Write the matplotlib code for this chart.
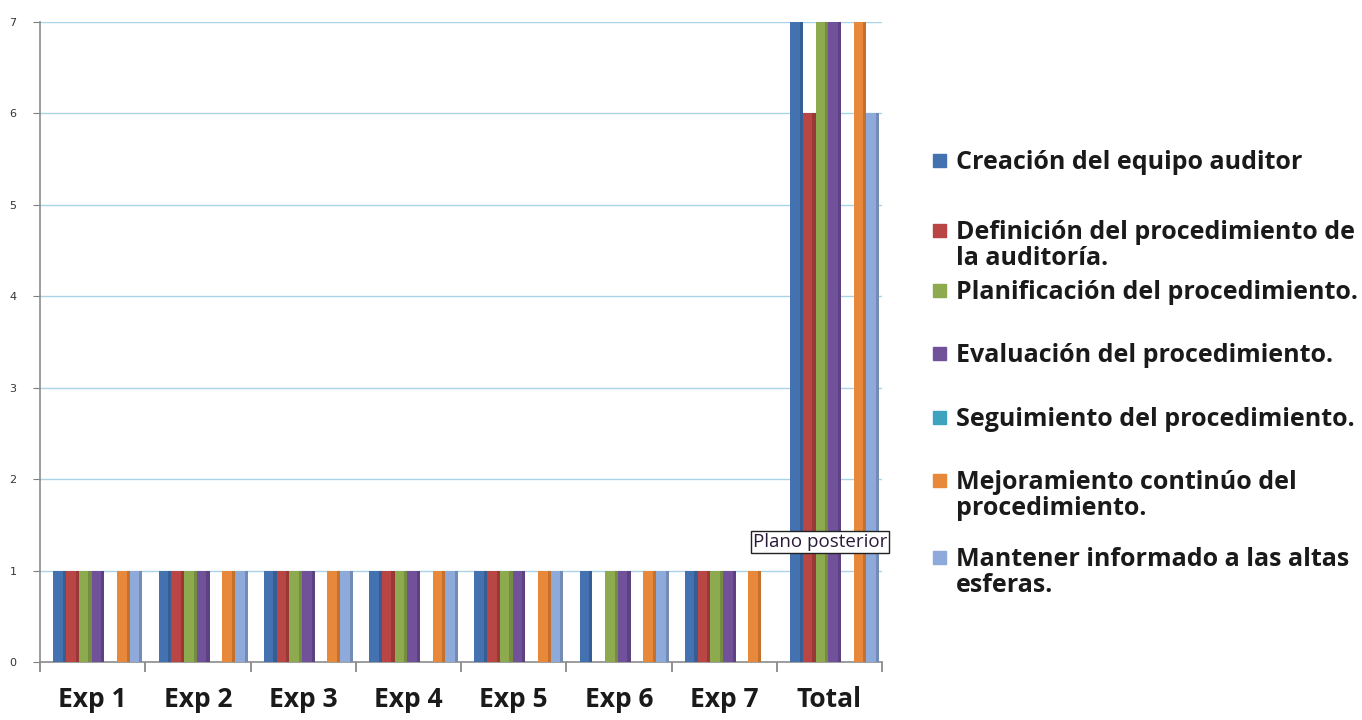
import matplotlib.pyplot as plt
import numpy as np
from matplotlib.patches import Rectangle

categories = ["Exp 1", "Exp 2", "Exp 3", "Exp 4", "Exp 5", "Exp 6", "Exp 7", "Total"]
series_names = [
    "Creación del equipo auditor",
    "Definición del procedimiento de\nla auditoría.",
    "Planificación del procedimiento.",
    "Evaluación del procedimiento.",
    "Seguimiento del procedimiento.",
    "Mejoramiento continúo del\nprocedimiento.",
    "Mantener informado a las altas\nesferas.",
]
creacion = [1, 1, 1, 1, 1, 1, 1, 7]
definicion = [1, 1, 1, 1, 1, 0, 1, 6]
planificacion = [1, 1, 1, 1, 1, 1, 1, 7]
evaluacion = [1, 1, 1, 1, 1, 1, 1, 7]
seguimiento = [0, 0, 0, 0, 0, 0, 0, 0]
mejoramiento = [1, 1, 1, 1, 1, 1, 1, 7]
mantener = [1, 1, 1, 1, 1, 1, 0, 6]
series = [creacion, definicion, planificacion, evaluacion, seguimiento, mejoramiento, mantener]

colors = ["#4472B0", "#B94644", "#8EAA4E", "#70519A", "#3FA3BF", "#E7883A", "#8EAADB"]
sides = ["#2E4F7E", "#80302E", "#627638", "#4C376B", "#2B7085", "#A85F25", "#5F7596"]
FONT = ["Open Sans", "DejaVu Sans"]

fig = plt.figure(figsize=(13.62, 7.2), dpi=100)
ax = fig.add_axes([40 / 1362, 1 - 662 / 720, 842 / 1362, (662 - 22) / 720])

x = np.arange(len(categories))
width = 0.121
shift = 0.05
for i, (vals, c, s) in enumerate(zip(series, colors, sides)):
    pos = x + shift + (i - 3) * width
    ax.bar(pos, vals, width=width, color=c, edgecolor="none", zorder=3)
    # darker right face for the 3-D look
    ax.bar(pos + width * 0.38, vals, width=width * 0.24, color=s, edgecolor="none", zorder=3, alpha=0.55)

ax.set_xlim(-0.5, len(categories) - 0.5)
ax.set_ylim(0, 7)
ax.set_yticks(range(8))
ax.tick_params(axis="y", labelsize=8, colors="#7F7F7F", labelcolor="#333333", length=5, pad=12)
ax.set_xticks(x)
ax.set_xticklabels(categories, fontsize=19, fontweight="bold", family=FONT, color="#1A1A1A")
ax.set_xticks(np.arange(-0.5, len(categories)), minor=True)
ax.tick_params(axis="x", which="major", length=0, pad=17)
ax.tick_params(axis="x", which="minor", length=7, color="#7F7F7F", width=1.2)
ax.grid(axis="y", color="#A9D3E8", linewidth=1.0, zorder=0)
for side in ["top", "right"]:
    ax.spines[side].set_visible(False)
ax.spines["left"].set_color("#8C8C8C")
ax.spines["bottom"].set_color("#8C8C8C")
ax.spines["left"].set_linewidth(1.2)
ax.spines["bottom"].set_linewidth(1.2)

# legend drawn by hand to follow the original slot layout (pixel centres of first lines)
legend_y = [160, 230, 290, 353, 417, 480, 557]
for name, c, ly in zip(series_names, colors, legend_y):
    fig.patches.append(Rectangle((933 / 1362, 1 - (ly + 7) / 720), 13 / 1362, 13 / 720,
                                 transform=fig.transFigure, color=c))
    for k, line in enumerate(name.split("\n")):
        fig.text(956 / 1362, 1 - (ly + 9 + 26 * k) / 720, line, fontsize=18, fontweight="bold",
                 family=FONT, color="#1A1A1A", va="baseline", ha="left")

fig.text(820 / 1362, 1 - 542 / 720, "Plano posterior", fontsize=13.5, ha="center", va="center",
         family=FONT, color="#2A1A3A",
         bbox=dict(boxstyle="square,pad=0.12", fc="white", ec="#222222", lw=1.0))

fig.savefig("out.png", dpi=100)
